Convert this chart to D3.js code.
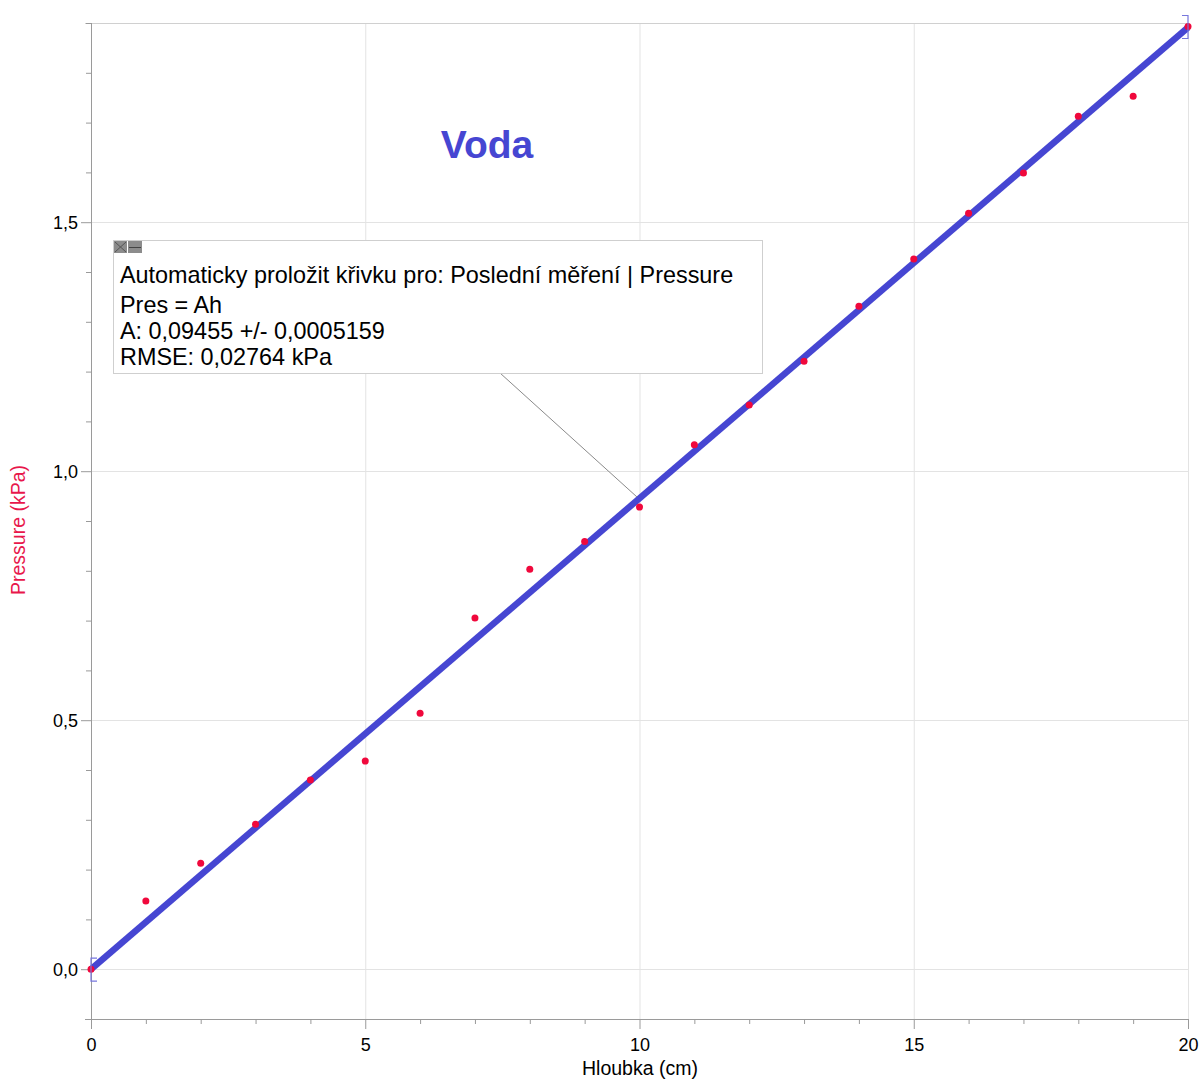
<!DOCTYPE html>
<html>
<head>
<meta charset="utf-8">
<script src="https://cdn.jsdelivr.net/npm/d3@7/dist/d3.min.js"></script>
<style>
  body { margin: 0; background: #fff; }
  svg { display: block; font-family: Arial, "Liberation Sans", sans-serif; }
</style>
</head>
<body>
<svg id="chart" width="1201" height="1079"></svg>
<script>
// Measured depth (cm) and pressure (kPa)
const depth = [0, 1, 2, 3, 4, 5, 6, 7, 8, 9, 10, 11, 12, 13, 14, 15, 16, 17, 18, 19, 20];
const pressure = [0.0, 0.137, 0.213, 0.291, 0.380, 0.418, 0.514, 0.705, 0.803, 0.859, 0.928,
                  1.053, 1.133, 1.221, 1.331, 1.426, 1.518, 1.599, 1.713, 1.753, 1.893];
// Proportional fit Pres = A*h
const fitA = 0.09455;
const fitRange = [0, 20];
const xTicks = [0, 5, 10, 15, 20];
const yTicks = [0.0, 0.5, 1.0, 1.5];
const fitLines = [
  "Automaticky proložit křivku pro: Poslední měření | Pressure",
  "Pres = Ah",
  "A: 0,09455 +/- 0,0005159",
  "RMSE: 0,02764 kPa"
];

const svg = d3.select("#chart");
const L = 91, R = 1188, T = 23, B = 1019;
const x = d3.scaleLinear().domain([0, 20]).range([L, R]);
const y = d3.scaleLinear().domain([-0.1, 1.9]).range([B, T]);
const fmt = d => d3.format(".1f")(d).replace(".", ",");

// grid
const grid = svg.append("g").attr("stroke", "#e3e3e3").attr("stroke-width", 1);
xTicks.forEach(v => grid.append("line").attr("x1", x(v) + 0.5).attr("x2", x(v) + 0.5).attr("y1", T).attr("y2", B));
yTicks.forEach(v => grid.append("line").attr("x1", L).attr("x2", R).attr("y1", Math.round(y(v)) + 0.5).attr("y2", Math.round(y(v)) + 0.5));
grid.append("line").attr("x1", L - 6).attr("x2", R).attr("y1", T + 0.5).attr("y2", T + 0.5).attr("stroke", "#d0d0d0");

// axes
const axisCol = "#9a9a9a";
const xAxis = svg.append("g").attr("transform", `translate(0,${B})`)
  .call(d3.axisBottom(x).tickValues(d3.range(0, 21, 1)).tickFormat("").tickSize(5).tickSizeOuter(0));
xAxis.selectAll("line").attr("stroke", axisCol);
xAxis.select(".domain").attr("stroke", axisCol).attr("d", `M${L - 6},0.5H${R}`);
xAxis.selectAll(".tick").filter(d => d % 5 === 0).select("line").attr("y2", 10);
xAxis.selectAll(".tick").filter(d => d % 5 === 0).append("text")
  .attr("y", 32).attr("fill", "#000").attr("font-size", 18).attr("text-anchor", "middle")
  .text(d => d);

const yAxis = svg.append("g").attr("transform", `translate(${L},0)`)
  .call(d3.axisLeft(y).tickValues(d3.range(-1, 20).map(i => i / 10)).tickFormat("").tickSize(5).tickSizeOuter(0));
yAxis.selectAll("line").attr("stroke", axisCol);
yAxis.select(".domain").attr("stroke", axisCol).attr("d", `M0.5,${T}V${B + 6}`);
yAxis.selectAll(".tick").filter(d => yTicks.some(v => Math.abs(v - d) < 1e-9)).select("line").attr("x2", -10);
yAxis.selectAll(".tick").filter(d => yTicks.some(v => Math.abs(v - d) < 1e-9)).append("text")
  .attr("x", -13).attr("dy", "0.35em").attr("fill", "#000").attr("font-size", 18).attr("text-anchor", "end")
  .text(d => fmt(d));

// axis titles
svg.append("text").attr("x", 640).attr("y", 1075).attr("text-anchor", "middle")
  .attr("font-size", 19.5).attr("fill", "#000").text("Hloubka (cm)");
svg.append("text").attr("transform", `translate(25,${530}) rotate(-90)`).attr("text-anchor", "middle")
  .attr("font-size", 19.5).attr("fill", "#e8174b").text("Pressure (kPa)");

// fit line
const fitCol = "#4646d2";
svg.append("line")
  .attr("x1", x(fitRange[0])).attr("y1", y(fitA * fitRange[0]))
  .attr("x2", x(fitRange[1])).attr("y2", y(fitA * fitRange[1]))
  .attr("stroke", fitCol).attr("stroke-width", 6.5);

// data points
svg.append("g").selectAll("circle").data(depth).join("circle")
  .attr("cx", (d, i) => x(d)).attr("cy", (d, i) => y(pressure[i])).attr("r", 3.5)
  .attr("fill", "#f0083c");

// fit range brackets
const br = svg.append("g").attr("stroke", "#7777dd").attr("fill", "none").attr("stroke-width", 1.2);
const b0 = y(fitA * fitRange[0]);
br.append("path").attr("d", `M${x(0) + 6},${b0 - 11}H${x(0)}V${b0 + 12}H${x(0) + 6}`);
const b1 = y(fitA * fitRange[1]);
br.append("path").attr("d", `M${x(20) - 6},${b1 - 12}H${x(20)}V${b1 + 11}H${x(20) - 6}`);

// title
svg.append("text").attr("x", 487).attr("y", 158).attr("text-anchor", "middle")
  .attr("font-size", 39).attr("font-weight", "bold").attr("fill", "#4646d2").text("Voda");

// fit annotation
svg.append("line").attr("x1", 500).attr("y1", 373).attr("x2", 637).attr("y2", 497)
  .attr("stroke", "#8a8a8a").attr("stroke-width", 1);
svg.append("rect").attr("x", 113.5).attr("y", 240.5).attr("width", 649).attr("height", 133)
  .attr("fill", "#fff").attr("stroke", "#cfcfcf");
const ic = svg.append("g");
ic.append("rect").attr("x", 114).attr("y", 241).attr("width", 13).attr("height", 12).attr("fill", "#8c8c8c");
ic.append("path").attr("d", "M115,242L126,252M126,242L115,252").attr("stroke", "#555").attr("stroke-width", 1);
ic.append("rect").attr("x", 128).attr("y", 241).attr("width", 14).attr("height", 12).attr("fill", "#8c8c8c");
ic.append("line").attr("x1", 129).attr("x2", 141).attr("y1", 247.5).attr("y2", 247.5).attr("stroke", "#444");
const lineY = [283, 313, 339, 365];
svg.append("g").selectAll("text").data(fitLines).join("text")
  .attr("x", 120).attr("y", (d, i) => lineY[i]).attr("font-size", 23.4).attr("fill", "#000").text(d => d);
</script>
</body>
</html>
